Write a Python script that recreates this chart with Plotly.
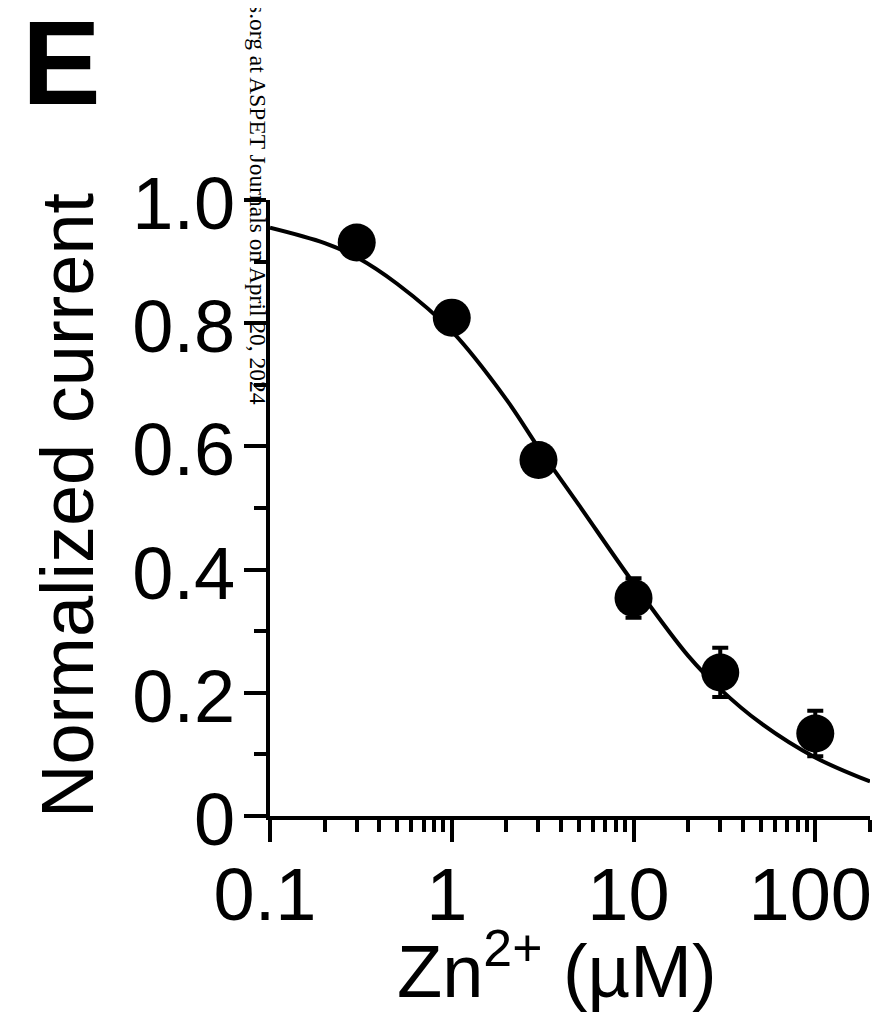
import plotly.graph_objects as go

# Data
zn_conc = [0.3, 1, 3, 10, 30, 100]
norm_current = [0.931, 0.809, 0.578, 0.354, 0.233, 0.134]
err = [0.012, 0.012, 0.012, 0.032, 0.040, 0.037]

fit_x = [0.1, 0.2, 0.3, 0.5, 1, 2, 3, 5, 10, 20, 30, 50, 100, 200]
fit_y = [0.955, 0.930, 0.907, 0.864, 0.787, 0.676, 0.598, 0.505, 0.378, 0.260, 0.206, 0.151, 0.095, 0.056]

x_major = [0.1, 1, 10, 100]
x_major_text = ["0.1", "1", "10", "100"]
x_minor = [0.2, 0.3, 0.4, 0.5, 0.6, 0.7, 0.8, 0.9, 2, 3, 4, 5, 6, 7, 8, 9,
           20, 30, 40, 50, 60, 70, 80, 90, 200]
y_major = [0, 0.2, 0.4, 0.6, 0.8, 1.0]
y_major_text = ["0", "0.2", "0.4", "0.6", "0.8", "1.0"]
y_minor = [0.1, 0.3, 0.5, 0.7, 0.9]

FONT = "Liberation Sans, Arial, sans-serif"
# page has an 8 px body margin, so the figure is 8 px smaller than the window
W, H = 877, 1008
L, T = 262, 192
PW, PH = 600, 616
R, B = W - L - PW, H - T - PH


def px(page_x):
    return (page_x - 8 - L) / PW


def py(page_y):
    return (T + PH - (page_y - 8)) / PH


fig = go.Figure()

fig.add_trace(go.Scatter(
    x=fit_x, y=fit_y, mode="lines", line=dict(color="black", width=4, shape="spline", smoothing=1.0),
    showlegend=False, hoverinfo="skip", xaxis="x", yaxis="y"))

fig.add_trace(go.Scatter(
    x=zn_conc, y=norm_current, mode="markers",
    marker=dict(color="black", size=38, line=dict(width=0)),
    error_y=dict(type="data", array=err, color="black", thickness=4, width=8),
    showlegend=False, xaxis="x", yaxis="y"))

# invisible trace for the minor-tick overlay axes
fig.add_trace(go.Scatter(x=[0.1], y=[0], mode="markers", marker=dict(opacity=0),
                         showlegend=False, hoverinfo="skip", xaxis="x2", yaxis="y2"))

common = dict(showgrid=False, zeroline=False, showline=True, linecolor="black", linewidth=4,
              ticks="outside", tickcolor="black", tickwidth=4)

fig.update_layout(
    width=W, height=H,
    margin=dict(l=L, r=R, t=T, b=B, pad=0),
    paper_bgcolor="white", plot_bgcolor="white",
    font=dict(family=FONT, color="black"),
    xaxis=dict(type="log", range=[-1, 2.30103], tickvals=x_major, ticktext=x_major_text,
               ticklen=22, tickfont=dict(size=74, family=FONT, color="black"),
               ticklabelstandoff=-11, ticklabelshift=-5, **common),
    yaxis=dict(range=[0, 1.0], tickvals=y_major, ticktext=y_major_text,
               ticklen=22, tickfont=dict(size=74, family=FONT, color="black"),
               ticklabelstandoff=-6, ticklabelshift=3, **common),
    xaxis2=dict(type="log", range=[-1, 2.30103], overlaying="x", tickvals=x_minor,
                ticklen=12, showticklabels=False, anchor="y2", **common),
    yaxis2=dict(range=[0, 1.0], overlaying="y", tickvals=y_minor, ticklen=12,
                showticklabels=False, anchor="x2", **common),
)

annotations = [
    dict(text="Normalized current", x=px(67), y=py(505), xref="paper", yref="paper",
         textangle=-90, showarrow=False, xanchor="center", yanchor="middle",
         font=dict(size=74, family=FONT, color="black")),
    dict(text="Zn<sup>2+</sup> (µM)", x=px(557), y=py(966), xref="paper", yref="paper",
         showarrow=False, xanchor="center", yanchor="middle",
         font=dict(size=74, family=FONT, color="black")),
    dict(text="<b>E</b>", x=px(20), y=py(63), xref="paper", yref="paper",
         showarrow=False, xanchor="left", yanchor="middle",
         font=dict(size=118, family=FONT, color="black")),
    dict(text="s.org at ASPET Journals on April 20, 2024", x=px(258), y=py(204),
         xref="paper", yref="paper", textangle=90, showarrow=False,
         xanchor="center", yanchor="middle",
         font=dict(size=23.5, family="Liberation Serif, Times New Roman, serif", color="black")),
]
fig.update_layout(annotations=annotations)

fig.write_html("out.html")
